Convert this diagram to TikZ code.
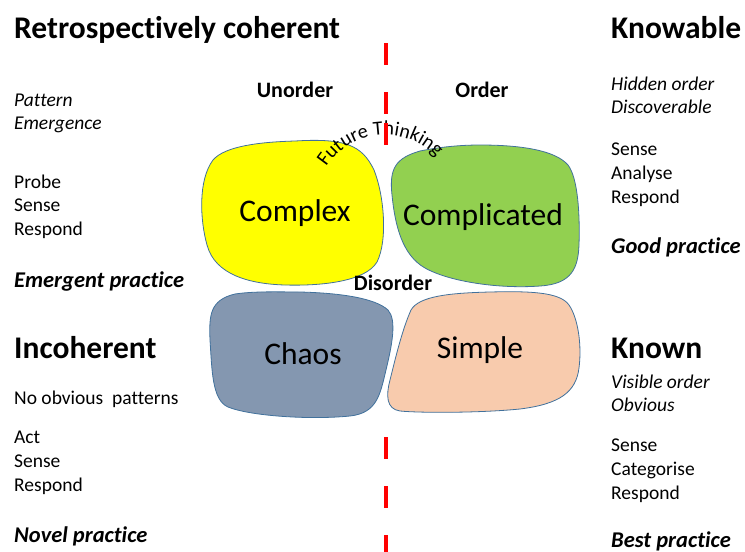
\documentclass[tikz,border=0pt]{standalone}
\usepackage{fontspec}
\setmainfont{Carlito}[Ligatures={NoCommon}]
\usetikzlibrary{decorations.text}
\definecolor{cplxfill}{HTML}{FFFF00}
\definecolor{compfill}{HTML}{92D050}
\definecolor{chaosfill}{HTML}{8497B0}
\definecolor{simplefill}{HTML}{F8CBAD}
\definecolor{blobline}{HTML}{41719C}
\definecolor{divred}{HTML}{FF0000}
\tikzset{
  head/.style={anchor=base west,inner sep=0pt,font=\fontsize{31.5}{32}\selectfont\bfseries},
  body/.style={anchor=base west,inner sep=0pt,font=\fontsize{19.5}{24}\selectfont},
  ital/.style={body,font=\fontsize{19.5}{24}\selectfont\itshape},
  prac/.style={body,font=\fontsize{22.5}{24}\selectfont\bfseries\itshape},
  axis/.style={anchor=base,inner sep=0pt,font=\fontsize{22}{22}\selectfont\bfseries},
  domainlbl/.style={inner sep=0pt,font=\fontsize{31.5}{32}\selectfont},
  blob/.style={draw=blobline,line width=0.8pt},
  divline/.style={divred,line width=4pt,dash pattern=on 22pt off 27pt},
}
\begin{document}
\begin{tikzpicture}[x=1pt,y=-1pt]
  \useasboundingbox (0,0) rectangle (745,552);
  % dividing line
  \draw[divline] (386,43) -- (386,120);
  \draw[divline] (386,437) -- (386,552);
  % domains
  \filldraw[blob,fill=cplxfill] (295,141)
    .. controls (345,138) and (362,145) .. (374,170)
    .. controls (384,195) and (388,240) .. (377,262)
    .. controls (365,282) and (320,286) .. (285,285)
    .. controls (250,284) and (215,275) .. (207,245)
    .. controls (200,220) and (198,180) .. (213,160)
    .. controls (225,146) and (260,142) .. (295,141) -- cycle;
  \filldraw[blob,fill=compfill] (480,145)
    .. controls (520,145) and (555,150) .. (568,165)
    .. controls (578,178) and (580,215) .. (579,245)
    .. controls (578,268) and (572,284) .. (540,286)
    .. controls (500,289) and (450,282) .. (425,268)
    .. controls (402,255) and (395,225) .. (392,195)
    .. controls (389,168) and (396,158) .. (420,151)
    .. controls (440,147) and (460,145) .. (480,145) -- cycle;
  \filldraw[blob,fill=chaosfill] (300,292)
    .. controls (340,293) and (375,298) .. (388,310)
    .. controls (397,320) and (392,345) .. (386,370)
    .. controls (380,395) and (377,413) .. (350,416)
    .. controls (310,420) and (250,416) .. (228,407)
    .. controls (212,400) and (212,370) .. (210,340)
    .. controls (209,315) and (210,300) .. (235,294)
    .. controls (255,291) and (280,292) .. (300,292) -- cycle;
  \filldraw[blob,fill=simplefill] (490,292)
    .. controls (530,291) and (560,292) .. (569,305)
    .. controls (578,318) and (582,345) .. (579,368)
    .. controls (576,392) and (560,404) .. (520,409)
    .. controls (480,413) and (420,413) .. (400,411)
    .. controls (386,409) and (386,395) .. (390,380)
    .. controls (395,360) and (402,330) .. (411,310)
    .. controls (419,296) and (450,293) .. (490,292) -- cycle;
  \node[domainlbl] (complex) at (295,213) {Complex};
  \node[domainlbl] (complicated) at (483,217) {Complicated};
  \node[domainlbl] (chaos) at (303,354) {Chaos};
  \node[domainlbl] (simple) at (480,350) {Simple};
  \node[axis] (disorder) at (393,290) {Disorder};
  \node[axis] (unorder) at (295,97) {Unorder};
  \node[axis] (order) at (482,97) {Order};
  % curved label
  \path[decorate,decoration={text along path,text align=center,
      text={|\fontsize{20}{20}\selectfont|Future Thinking}}]
    (385,205) ++(-155:70) arc[start angle=-155,end angle=-35,radius=70];
  \draw[divred,line width=4pt] (386,123) -- (386,145);
  % left column
  \path
  (14,38) node[head] (retro) {Retrospectively coherent}
  (14,106) node[ital] (pattern) {Pattern}
  (14,129) node[ital] (emergence) {Emergence}
  (14,188) node[body] (probe) {Probe}
  (14,211) node[body] (senseA) {Sense}
  (14,235) node[body] (respondA) {Respond}
  (14,287) node[prac] (emergent) {Emergent practice}
  (14,358) node[head] (incoherent) {Incoherent}
  (14,404) node[body] (noobvious) {No obvious\ \ patterns}
  (14,443) node[body] (act) {Act}
  (14,467) node[body] (senseB) {Sense}
  (14,491) node[body] (respondB) {Respond}
  (14,542) node[prac] (novel) {Novel practice};
  % right column
  \path
  (611,38) node[head] (knowable) {Knowable}
  (611,90) node[ital] (hidden) {Hidden order}
  (611,113) node[ital] (discover) {Discoverable}
  (611,155) node[body] (senseC) {Sense}
  (611,179) node[body] (analyse) {Analyse}
  (611,203) node[body] (respondC) {Respond}
  (611,253) node[prac] (good) {Good practice}
  (611,358) node[head] (known) {Known}
  (611,388) node[ital] (visible) {Visible order}
  (611,411) node[ital] (obvious) {Obvious}
  (611,451) node[body] (senseD) {Sense}
  (611,475) node[body] (categorise) {Categorise}
  (611,499) node[body] (respondD) {Respond}
  (611,547) node[prac] (best) {Best practice};
\end{tikzpicture}
\end{document}
